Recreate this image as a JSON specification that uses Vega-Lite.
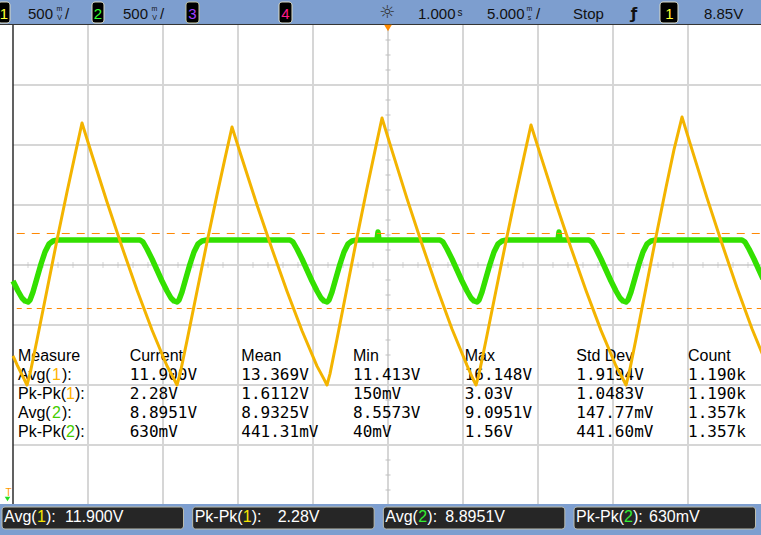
{
"$schema": "https://vega.github.io/schema/vega-lite/v6.json",
"width": 761, "height": 535,
"autosize": {"type": "none"},
"padding": 0,
"background": "#ffffff",
"config": {
  "view": {"stroke": null},
  "axis": {"disable": true},
  "legend": {"disable": true},
  "text": {"font": "Liberation Sans", "fontSize": 15, "baseline": "alphabetic", "align": "left", "color": "#111111"}
},
"datasets": {
  "gridT": [{"t":-20},{"t":-15},{"t":-10},{"t":-5},{"t":0},{"t":5},{"t":10},{"t":15},{"t":20}],
  "gridV": [{"v":10.3},{"v":10.8},{"v":11.3},{"v":11.8},{"v":12.3},{"v":12.8},{"v":13.3}],
  "minorT": [{"t":-24},{"t":-23},{"t":-22},{"t":-21},{"t":-19},{"t":-18},{"t":-17},{"t":-16},{"t":-14},{"t":-13},{"t":-12},{"t":-11},{"t":-9},{"t":-8},{"t":-7},{"t":-6},{"t":-4},{"t":-3},{"t":-2},{"t":-1},{"t":1},{"t":2},{"t":3},{"t":4},{"t":6},{"t":7},{"t":8},{"t":9},{"t":11},{"t":12},{"t":13},{"t":14},{"t":16},{"t":17},{"t":18},{"t":19},{"t":21},{"t":22},{"t":23},{"t":24}],
  "minorV": [{"v":9.925},{"v":10.05},{"v":10.175},{"v":10.425},{"v":10.55},{"v":10.675},{"v":10.925},{"v":11.05},{"v":11.175},{"v":11.425},{"v":11.55},{"v":11.675},{"v":11.925},{"v":12.05},{"v":12.175},{"v":12.425},{"v":12.55},{"v":12.675},{"v":12.925},{"v":13.05},{"v":13.175},{"v":13.425},{"v":13.55},{"v":13.675}],
  "markers": [{"marker":"max","v":9.05417},{"marker":"min","v":8.42917}],
  "meas": [
    {"measure":"Avg(1)","stat":"Current","value":"11.900V"},{"measure":"Avg(1)","stat":"Mean","value":"13.369V"},{"measure":"Avg(1)","stat":"Min","value":"11.413V"},{"measure":"Avg(1)","stat":"Max","value":"16.148V"},{"measure":"Avg(1)","stat":"Std Dev","value":"1.9194V"},{"measure":"Avg(1)","stat":"Count","value":"1.190k"},
    {"measure":"Pk-Pk(1)","stat":"Current","value":"2.28V"},{"measure":"Pk-Pk(1)","stat":"Mean","value":"1.6112V"},{"measure":"Pk-Pk(1)","stat":"Min","value":"150mV"},{"measure":"Pk-Pk(1)","stat":"Max","value":"3.03V"},{"measure":"Pk-Pk(1)","stat":"Std Dev","value":"1.0483V"},{"measure":"Pk-Pk(1)","stat":"Count","value":"1.190k"},
    {"measure":"Avg(2)","stat":"Current","value":"8.8951V"},{"measure":"Avg(2)","stat":"Mean","value":"8.9325V"},{"measure":"Avg(2)","stat":"Min","value":"8.5573V"},{"measure":"Avg(2)","stat":"Max","value":"9.0951V"},{"measure":"Avg(2)","stat":"Std Dev","value":"147.77mV"},{"measure":"Avg(2)","stat":"Count","value":"1.357k"},
    {"measure":"Pk-Pk(2)","stat":"Current","value":"630mV"},{"measure":"Pk-Pk(2)","stat":"Mean","value":"441.31mV"},{"measure":"Pk-Pk(2)","stat":"Min","value":"40mV"},{"measure":"Pk-Pk(2)","stat":"Max","value":"1.56V"},{"measure":"Pk-Pk(2)","stat":"Std Dev","value":"441.60mV"},{"measure":"Pk-Pk(2)","stat":"Count","value":"1.357k"}
  ],
  "labels": [
    {"measure":"Avg(1)","prefix":"Avg(","ch":"1"},
    {"measure":"Pk-Pk(1)","prefix":"Pk-Pk(","ch":"1"},
    {"measure":"Avg(2)","prefix":"Avg(","ch":"2"},
    {"measure":"Pk-Pk(2)","prefix":"Pk-Pk(","ch":"2"}
  ],
  "ch1": [{"t":-25,"v":11.042},{"t":-24.733,"v":10.969},{"t":-24.267,"v":10.851},{"t":-24.067,"v":10.8},
    {"t":-23.867,"v":10.892},{"t":-23.4,"v":11.175},{"t":-22.733,"v":11.592},{"t":-22.067,"v":12.008},{"t":-21.4,"v":12.408},{"t":-20.867,"v":12.717},{"t":-20.4,"v":12.983},
    {"t":-19.733,"v":12.717},{"t":-18.733,"v":12.325},{"t":-17.733,"v":11.95},{"t":-16.733,"v":11.592},{"t":-15.733,"v":11.258},{"t":-14.733,"v":10.958},{"t":-14.267,"v":10.85},{"t":-14.067,"v":10.8},
    {"t":-13.867,"v":10.89},{"t":-13.4,"v":11.17},{"t":-12.733,"v":11.581},{"t":-12.067,"v":11.989},{"t":-11.4,"v":12.384},{"t":-10.867,"v":12.688},{"t":-10.4,"v":12.95},
    {"t":-9.733,"v":12.688},{"t":-8.733,"v":12.3},{"t":-7.733,"v":11.933},{"t":-6.733,"v":11.581},{"t":-5.733,"v":11.252},{"t":-4.733,"v":10.957},{"t":-4.267,"v":10.849},{"t":-4.067,"v":10.8},
    {"t":-3.867,"v":10.893},{"t":-3.4,"v":11.183},{"t":-2.733,"v":11.608},{"t":-2.067,"v":12.03},{"t":-1.4,"v":12.44},{"t":-0.867,"v":12.753},{"t":-0.4,"v":13.025},
    {"t":0.267,"v":12.753},{"t":1.267,"v":12.353},{"t":2.267,"v":11.973},{"t":3.267,"v":11.608},{"t":4.267,"v":11.267},{"t":5.267,"v":10.963},{"t":5.667,"v":10.85},{"t":5.867,"v":10.8},
    {"t":6.067,"v":10.891},{"t":6.533,"v":11.173},{"t":7.2,"v":11.587},{"t":7.867,"v":11.998},{"t":8.533,"v":12.397},{"t":9.067,"v":12.703},{"t":9.533,"v":12.967},
    {"t":10.2,"v":12.703},{"t":11.2,"v":12.313},{"t":12.2,"v":11.942},{"t":13.2,"v":11.587},{"t":14.2,"v":11.255},{"t":15.2,"v":10.958},{"t":15.667,"v":10.85},{"t":15.867,"v":10.8},
    {"t":16.067,"v":10.894},{"t":16.533,"v":11.184},{"t":17.2,"v":11.611},{"t":17.867,"v":12.035},{"t":18.533,"v":12.446},{"t":19.067,"v":12.761},{"t":19.6,"v":13.033},
    {"t":20.267,"v":12.761},{"t":21.267,"v":12.359},{"t":22.267,"v":11.977},{"t":23.267,"v":11.611},{"t":24.267,"v":11.269},{"t":24.867,"v":11.086},{"t":25,"v":11.046}],
  "ch2": [{"t":-25,"v":8.6583},{"t":-24.667,"v":8.575},{"t":-24.4,"v":8.5167},{"t":-24.2,"v":8.4917},{"t":-24.0,"v":8.4833},
    {"t":-23.867,"v":8.5},{"t":-23.667,"v":8.5667},{"t":-23.4,"v":8.6833},{"t":-23.133,"v":8.8},{"t":-22.867,"v":8.9},{"t":-22.6,"v":8.9667},{"t":-22.333,"v":8.9917},{"t":-22.0,"v":9.0},
    {"t":-16.533,"v":9.0},
    {"t":-16.333,"v":8.9833},{"t":-16.067,"v":8.925},{"t":-15.733,"v":8.8417},{"t":-15.4,"v":8.75},{"t":-15.067,"v":8.6583},{"t":-14.733,"v":8.575},{"t":-14.467,"v":8.5167},{"t":-14.267,"v":8.4917},{"t":-14.067,"v":8.4833},
    {"t":-13.933,"v":8.5},{"t":-13.733,"v":8.5667},{"t":-13.467,"v":8.6833},{"t":-13.2,"v":8.8},{"t":-12.933,"v":8.9},{"t":-12.667,"v":8.9667},{"t":-12.4,"v":8.9917},{"t":-12.067,"v":9.0},
    {"t":-6.533,"v":9.0},
    {"t":-6.333,"v":8.9833},{"t":-6.067,"v":8.925},{"t":-5.733,"v":8.8417},{"t":-5.4,"v":8.75},{"t":-5.067,"v":8.6583},{"t":-4.733,"v":8.575},{"t":-4.467,"v":8.5167},{"t":-4.267,"v":8.4917},{"t":-4.067,"v":8.4833},
    {"t":-3.933,"v":8.5},{"t":-3.733,"v":8.5667},{"t":-3.467,"v":8.6833},{"t":-3.2,"v":8.8},{"t":-2.933,"v":8.9},{"t":-2.667,"v":8.9667},{"t":-2.4,"v":8.9917},{"t":-2.067,"v":9.0},
    {"t":-0.733,"v":9.0},{"t":-0.667,"v":9.0667},{"t":-0.6,"v":9.0},
    {"t":3.467,"v":9.0},
    {"t":3.667,"v":8.9833},{"t":3.933,"v":8.925},{"t":4.267,"v":8.8417},{"t":4.6,"v":8.75},{"t":4.933,"v":8.6583},{"t":5.267,"v":8.575},{"t":5.533,"v":8.5167},{"t":5.733,"v":8.4917},{"t":5.933,"v":8.4833},
    {"t":6.067,"v":8.5},{"t":6.267,"v":8.5667},{"t":6.533,"v":8.6833},{"t":6.8,"v":8.8},{"t":7.067,"v":8.9},{"t":7.333,"v":8.9667},{"t":7.6,"v":8.9917},{"t":7.933,"v":9.0},
    {"t":11.333,"v":9.0},{"t":11.4,"v":9.0667},{"t":11.467,"v":9.0},
    {"t":13.4,"v":9.0},
    {"t":13.6,"v":8.9833},{"t":13.867,"v":8.925},{"t":14.2,"v":8.8417},{"t":14.533,"v":8.75},{"t":14.867,"v":8.6583},{"t":15.2,"v":8.575},{"t":15.467,"v":8.5167},{"t":15.667,"v":8.4917},{"t":15.867,"v":8.4833},
    {"t":16.0,"v":8.5},{"t":16.2,"v":8.5667},{"t":16.467,"v":8.6833},{"t":16.733,"v":8.8},{"t":17.0,"v":8.9},{"t":17.267,"v":8.9667},{"t":17.533,"v":8.9917},{"t":17.867,"v":9.0},
    {"t":23.6,"v":9.0},
    {"t":23.8,"v":8.9833},{"t":24.067,"v":8.925},{"t":24.4,"v":8.8417},{"t":24.733,"v":8.75},{"t":25.0,"v":8.675}]
},
"resolve": {"scale": {"x": "independent", "y": "independent", "color": "independent", "strokeDash": "independent"}},
"layer": [
  {
    "layer": [
      {"data": {"name": "gridT"}, "mark": {"type": "rule", "color": "#d6d6d6", "strokeWidth": 2},
       "encoding": {"x": {"field": "t", "type": "quantitative", "scale": {"domain": [-25.8667, 24.8667], "nice": false, "zero": false}},
                    "y": {"datum": 13.8, "type": "quantitative", "scale": {"domain": [9.55, 14.008333], "nice": false, "zero": false}}, "y2": {"datum": 9.8}}},
      {"data": {"name": "gridV"}, "mark": {"type": "rule", "color": "#d6d6d6", "strokeWidth": 2},
       "encoding": {"y": {"field": "v", "type": "quantitative", "scale": {"domain": [9.55, 14.008333], "nice": false, "zero": false}},
                    "x": {"datum": -25, "type": "quantitative", "scale": {"domain": [-25.8667, 24.8667], "nice": false, "zero": false}}, "x2": {"datum": 25}}},
      {"data": {"name": "minorT"}, "mark": {"type": "tick", "orient": "vertical", "size": 6, "thickness": 1, "color": "#c2c2c2"},
       "encoding": {"x": {"field": "t", "type": "quantitative", "scale": {"domain": [-25.8667, 24.8667], "nice": false, "zero": false}},
                    "y": {"datum": 11.8, "type": "quantitative", "scale": {"domain": [9.55, 14.008333], "nice": false, "zero": false}}}},
      {"data": {"name": "minorV"}, "mark": {"type": "tick", "orient": "horizontal", "size": 5, "thickness": 1.5, "color": "#c2c2c2"},
       "encoding": {"y": {"field": "v", "type": "quantitative", "scale": {"domain": [9.55, 14.008333], "nice": false, "zero": false}},
                    "x": {"datum": 0, "type": "quantitative", "scale": {"domain": [-25.8667, 24.8667], "nice": false, "zero": false}}}},
      {"data": {"values": [{}]}, "mark": {"type": "rule", "color": "#2d2d2d", "strokeWidth": 1.5},
       "encoding": {"x": {"datum": -25, "type": "quantitative"}, "y": {"datum": 13.8, "type": "quantitative"}, "y2": {"datum": 9.8}}},
      {"data": {"values": [{}]}, "mark": {"type": "rect", "color": "#7d9ecf"},
       "encoding": {"x": {"datum": -26, "type": "quantitative"}, "x2": {"datum": 25.5}, "y": {"datum": 14.1, "type": "quantitative"}, "y2": {"datum": 13.8083}}},
      {"data": {"values": [{}]}, "mark": {"type": "rule", "color": "#333333", "strokeWidth": 1},
       "encoding": {"x": {"datum": -26, "type": "quantitative"}, "x2": {"datum": 25.5}, "y": {"datum": 13.80417, "type": "quantitative"}}},
      {"data": {"values": [{}]}, "mark": {"type": "rect", "color": "#7d9ecf"},
       "encoding": {"x": {"datum": -26, "type": "quantitative"}, "x2": {"datum": 25.5}, "y": {"datum": 9.8083, "type": "quantitative"}, "y2": {"datum": 9.5}}},
      {"data": {"values": [{}]}, "mark": {"type": "rect", "fill": "#000000", "stroke": "#dcdcc8", "strokeWidth": 1, "cornerRadius": 3},
       "encoding": {"x": {"datum": -26, "type": "quantitative"}, "x2": {"datum": -25.2}, "y": {"datum": 13.99167, "type": "quantitative"}, "y2": {"datum": 13.81667}}},
      {"data": {"values": [{}]}, "mark": {"type": "rect", "fill": "#000000", "stroke": "#dcdcc8", "strokeWidth": 1, "cornerRadius": 3},
       "encoding": {"x": {"datum": -19.733, "type": "quantitative"}, "x2": {"datum": -18.933}, "y": {"datum": 13.99167, "type": "quantitative"}, "y2": {"datum": 13.81667}}},
      {"data": {"values": [{}]}, "mark": {"type": "rect", "fill": "#000000", "stroke": "#c8c8a0", "strokeWidth": 1, "cornerRadius": 3},
       "encoding": {"x": {"datum": -13.467, "type": "quantitative"}, "x2": {"datum": -12.6}, "y": {"datum": 13.99167, "type": "quantitative"}, "y2": {"datum": 13.81667}}},
      {"data": {"values": [{}]}, "mark": {"type": "rect", "fill": "#000000", "stroke": "#dcdcc8", "strokeWidth": 1, "cornerRadius": 3},
       "encoding": {"x": {"datum": -7.267, "type": "quantitative"}, "x2": {"datum": -6.4}, "y": {"datum": 13.99167, "type": "quantitative"}, "y2": {"datum": 13.81667}}},
      {"data": {"values": [{}]}, "mark": {"type": "rect", "fill": "#000000", "stroke": "#dcdcc8", "strokeWidth": 1, "cornerRadius": 3},
       "encoding": {"x": {"datum": 18.133, "type": "quantitative"}, "x2": {"datum": 19.333}, "y": {"datum": 13.99167, "type": "quantitative"}, "y2": {"datum": 13.81667}}},
      {"data": {"values": [{"label": "1"}]}, "mark": {"type": "text", "align": "center", "color": "#ffff33"},
       "encoding": {"x": {"datum": -25.6, "type": "quantitative"}, "y": {"datum": 13.854, "type": "quantitative"}, "text": {"field": "label"}}},
      {"data": {"values": [{"label": "2"}]}, "mark": {"type": "text", "align": "center", "color": "#33ff33"},
       "encoding": {"x": {"datum": -19.333, "type": "quantitative"}, "y": {"datum": 13.854, "type": "quantitative"}, "text": {"field": "label"}}},
      {"data": {"values": [{"label": "3"}]}, "mark": {"type": "text", "align": "center", "color": "#a040ff"},
       "encoding": {"x": {"datum": -13.033, "type": "quantitative"}, "y": {"datum": 13.854, "type": "quantitative"}, "text": {"field": "label"}}},
      {"data": {"values": [{"label": "4"}]}, "mark": {"type": "text", "align": "center", "color": "#ff1a8c"},
       "encoding": {"x": {"datum": -6.833, "type": "quantitative"}, "y": {"datum": 13.854, "type": "quantitative"}, "text": {"field": "label"}}},
      {"data": {"values": [{"label": "1"}]}, "mark": {"type": "text", "align": "center", "color": "#ffff33"},
       "encoding": {"x": {"datum": 18.767, "type": "quantitative"}, "y": {"datum": 13.854, "type": "quantitative"}, "text": {"field": "label"}}},
      {"data": {"values": [{"label": "500"}]}, "mark": {"type": "text"},
       "encoding": {"x": {"datum": -24.0, "type": "quantitative"}, "y": {"datum": 13.854, "type": "quantitative"}, "text": {"field": "label"}}},
      {"data": {"values": [{"label": "m"}]}, "mark": {"type": "text", "align": "center", "fontSize": 7},
       "encoding": {"x": {"datum": -21.9, "type": "quantitative"}, "y": {"datum": 13.9167, "type": "quantitative"}, "text": {"field": "label"}}},
      {"data": {"values": [{"label": "V"}]}, "mark": {"type": "text", "align": "center", "fontSize": 7},
       "encoding": {"x": {"datum": -21.9, "type": "quantitative"}, "y": {"datum": 13.8417, "type": "quantitative"}, "text": {"field": "label"}}},
      {"data": {"values": [{"label": "/"}]}, "mark": {"type": "text"},
       "encoding": {"x": {"datum": -21.533, "type": "quantitative"}, "y": {"datum": 13.854, "type": "quantitative"}, "text": {"field": "label"}}},
      {"data": {"values": [{"label": "500"}]}, "mark": {"type": "text"},
       "encoding": {"x": {"datum": -17.667, "type": "quantitative"}, "y": {"datum": 13.854, "type": "quantitative"}, "text": {"field": "label"}}},
      {"data": {"values": [{"label": "m"}]}, "mark": {"type": "text", "align": "center", "fontSize": 7},
       "encoding": {"x": {"datum": -15.567, "type": "quantitative"}, "y": {"datum": 13.9167, "type": "quantitative"}, "text": {"field": "label"}}},
      {"data": {"values": [{"label": "V"}]}, "mark": {"type": "text", "align": "center", "fontSize": 7},
       "encoding": {"x": {"datum": -15.567, "type": "quantitative"}, "y": {"datum": 13.8417, "type": "quantitative"}, "text": {"field": "label"}}},
      {"data": {"values": [{"label": "/"}]}, "mark": {"type": "text"},
       "encoding": {"x": {"datum": -15.2, "type": "quantitative"}, "y": {"datum": 13.854, "type": "quantitative"}, "text": {"field": "label"}}},
      {"data": {"values": [{"label": "☼"}]}, "mark": {"type": "text", "align": "center", "font": "DejaVu Sans", "fontSize": 18, "color": "#333333"},
       "encoding": {"x": {"datum": -0.067, "type": "quantitative"}, "y": {"datum": 13.862, "type": "quantitative"}, "text": {"field": "label"}}},
      {"data": {"values": [{"label": "1.000"}]}, "mark": {"type": "text"},
       "encoding": {"x": {"datum": 2.0, "type": "quantitative"}, "y": {"datum": 13.854, "type": "quantitative"}, "text": {"field": "label"}}},
      {"data": {"values": [{"label": "s"}]}, "mark": {"type": "text", "align": "center", "fontSize": 10},
       "encoding": {"x": {"datum": 4.8, "type": "quantitative"}, "y": {"datum": 13.875, "type": "quantitative"}, "text": {"field": "label"}}},
      {"data": {"values": [{"label": "5.000"}]}, "mark": {"type": "text"},
       "encoding": {"x": {"datum": 6.6, "type": "quantitative"}, "y": {"datum": 13.854, "type": "quantitative"}, "text": {"field": "label"}}},
      {"data": {"values": [{"label": "m"}]}, "mark": {"type": "text", "align": "center", "fontSize": 7},
       "encoding": {"x": {"datum": 9.433, "type": "quantitative"}, "y": {"datum": 13.9167, "type": "quantitative"}, "text": {"field": "label"}}},
      {"data": {"values": [{"label": "s"}]}, "mark": {"type": "text", "align": "center", "fontSize": 7},
       "encoding": {"x": {"datum": 9.433, "type": "quantitative"}, "y": {"datum": 13.8417, "type": "quantitative"}, "text": {"field": "label"}}},
      {"data": {"values": [{"label": "/"}]}, "mark": {"type": "text"},
       "encoding": {"x": {"datum": 9.8667, "type": "quantitative"}, "y": {"datum": 13.854, "type": "quantitative"}, "text": {"field": "label"}}},
      {"data": {"values": [{"label": "Stop"}]}, "mark": {"type": "text"},
       "encoding": {"x": {"datum": 12.333, "type": "quantitative"}, "y": {"datum": 13.854, "type": "quantitative"}, "text": {"field": "label"}}},
      {"data": {"values": [{"label": "ƒ"}]}, "mark": {"type": "text", "align": "center", "font": "DejaVu Sans", "fontWeight": "bold"},
       "encoding": {"x": {"datum": 16.4, "type": "quantitative"}, "y": {"datum": 13.854, "type": "quantitative"}, "text": {"field": "label"}}},
      {"data": {"values": [{"label": "8.85V"}]}, "mark": {"type": "text"},
       "encoding": {"x": {"datum": 21.067, "type": "quantitative"}, "y": {"datum": 13.854, "type": "quantitative"}, "text": {"field": "label"}}},
      {"data": {"values": [{}]}, "mark": {"type": "point", "shape": "triangle-down", "filled": true, "size": 60, "color": "#ff8a00", "opacity": 1},
       "encoding": {"x": {"datum": 0, "type": "quantitative"}, "y": {"datum": 13.775, "type": "quantitative"}}},
      {"data": {"values": [{"label": "T"}]}, "mark": {"type": "text", "align": "center", "fontSize": 10, "color": "#ff9900"},
       "encoding": {"x": {"datum": -25.3, "type": "quantitative"}, "y": {"datum": 9.875, "type": "quantitative"}, "text": {"field": "label"}}},
      {"data": {"values": [{}]}, "mark": {"type": "point", "shape": "triangle-down", "filled": true, "size": 30, "color": "#22dd22", "opacity": 1},
       "encoding": {"x": {"datum": -25.367, "type": "quantitative"}, "y": {"datum": 9.85, "type": "quantitative"}}}
    ]
  },
  {
    "layer": [
      {"data": {"name": "meas"}, "mark": {"type": "text", "font": "DejaVu Sans Mono", "fontSize": 16, "color": "#000000"},
       "encoding": {
         "x": {"field": "stat", "type": "nominal", "scale": {"type": "point", "domain": ["Measure","Current","Mean","Min","Max","Std Dev","Count"], "padding": 0.40746, "align": 0.1978, "round": false}},
         "y": {"field": "measure", "type": "nominal", "scale": {"type": "point", "domain": ["Measure","Avg(1)","Pk-Pk(1)","Avg(2)","Pk-Pk(2)"], "range": [361, 437], "padding": 0, "round": false}},
         "text": {"field": "value"}}},
      {"data": {"name": "meas"}, "transform": [{"filter": "datum.measure == 'Avg(1)'"}],
       "mark": {"type": "text", "fontSize": 16, "color": "#000000"},
       "encoding": {"x": {"field": "stat", "type": "nominal"}, "y": {"datum": "Measure", "type": "nominal"}, "text": {"field": "stat"}}},
      {"data": {"values": [{"label": "Measure"}]}, "mark": {"type": "text", "fontSize": 16, "color": "#000000"},
       "encoding": {"x": {"datum": "Measure", "type": "nominal"}, "y": {"datum": "Measure", "type": "nominal"}, "text": {"field": "label"}}},
      {"data": {"name": "labels"}, "mark": {"type": "text", "fontSize": 16, "color": "#000000"},
       "encoding": {"x": {"datum": "Measure", "type": "nominal"}, "y": {"field": "measure", "type": "nominal"}, "text": {"field": "prefix"}}},
      {"data": {"name": "labels"}, "transform": [{"filter": "datum.prefix == 'Avg('"}],
       "mark": {"type": "text", "fontSize": 16, "dx": 34},
       "encoding": {"x": {"datum": "Measure", "type": "nominal"}, "y": {"field": "measure", "type": "nominal"}, "text": {"field": "ch"},
         "color": {"field": "ch", "type": "nominal", "scale": {"domain": ["1","2"], "range": ["#ffb400","#44cc00"]}, "legend": null}}},
      {"data": {"name": "labels"}, "transform": [{"filter": "datum.prefix == 'Pk-Pk('"}],
       "mark": {"type": "text", "fontSize": 16, "dx": 48},
       "encoding": {"x": {"datum": "Measure", "type": "nominal"}, "y": {"field": "measure", "type": "nominal"}, "text": {"field": "ch"},
         "color": {"field": "ch", "type": "nominal", "scale": {"domain": ["1","2"], "range": ["#ffb400","#44cc00"]}, "legend": null}}},
      {"data": {"name": "labels"}, "transform": [{"filter": "datum.prefix == 'Avg('"}],
       "mark": {"type": "text", "fontSize": 16, "dx": 44, "color": "#000000"},
       "encoding": {"x": {"datum": "Measure", "type": "nominal"}, "y": {"field": "measure", "type": "nominal"}, "text": {"value": "):"}}},
      {"data": {"name": "labels"}, "transform": [{"filter": "datum.prefix == 'Pk-Pk('"}],
       "mark": {"type": "text", "fontSize": 16, "dx": 57, "color": "#000000"},
       "encoding": {"x": {"datum": "Measure", "type": "nominal"}, "y": {"field": "measure", "type": "nominal"}, "text": {"value": "):"}}}
    ]
  },
  {
    "layer": [
      {"data": {"name": "labels"}, "mark": {"type": "rect", "fill": "#262626", "stroke": "#bdbdad", "strokeWidth": 1, "cornerRadius": 3},
       "encoding": {
         "x": {"field": "measure", "type": "nominal", "scale": {"type": "band", "domain": ["Avg(1)","Pk-Pk(1)","Avg(2)","Pk-Pk(2)"], "paddingInner": 0.0481, "paddingOuter": 0.01966, "align": 0.267, "round": false}},
         "y": {"datum": 9.7833, "type": "quantitative", "scale": {"domain": [9.55, 14.008333], "nice": false, "zero": false}}, "y2": {"datum": 9.6}}},
      {"data": {"name": "labels"}, "mark": {"type": "text", "fontSize": 16, "color": "#ffffff", "dx": 2},
       "encoding": {"x": {"field": "measure", "type": "nominal", "bandPosition": 0}, "y": {"datum": 9.6583, "type": "quantitative"}, "text": {"field": "prefix"}}},
      {"data": {"name": "labels"}, "transform": [{"filter": "datum.prefix == 'Avg('"}],
       "mark": {"type": "text", "fontSize": 16, "dx": 35},
       "encoding": {"x": {"field": "measure", "type": "nominal", "bandPosition": 0}, "y": {"datum": 9.6583, "type": "quantitative"}, "text": {"field": "ch"},
         "color": {"field": "ch", "type": "nominal", "scale": {"domain": ["1","2"], "range": ["#f5e400","#33ee33"]}, "legend": null}}},
      {"data": {"name": "labels"}, "transform": [{"filter": "datum.prefix == 'Pk-Pk('"}],
       "mark": {"type": "text", "fontSize": 16, "dx": 50},
       "encoding": {"x": {"field": "measure", "type": "nominal", "bandPosition": 0}, "y": {"datum": 9.6583, "type": "quantitative"}, "text": {"field": "ch"},
         "color": {"field": "ch", "type": "nominal", "scale": {"domain": ["1","2"], "range": ["#f5e400","#33ee33"]}, "legend": null}}},
      {"data": {"name": "labels"}, "transform": [{"filter": "datum.prefix == 'Avg('"}],
       "mark": {"type": "text", "fontSize": 16, "dx": 44, "color": "#ffffff"},
       "encoding": {"x": {"field": "measure", "type": "nominal", "bandPosition": 0}, "y": {"datum": 9.6583, "type": "quantitative"}, "text": {"value": "):"}}},
      {"data": {"name": "labels"}, "transform": [{"filter": "datum.prefix == 'Pk-Pk('"}],
       "mark": {"type": "text", "fontSize": 16, "dx": 59, "color": "#ffffff"},
       "encoding": {"x": {"field": "measure", "type": "nominal", "bandPosition": 0}, "y": {"datum": 9.6583, "type": "quantitative"}, "text": {"value": "):"}}},
      {"data": {"name": "meas"}, "transform": [{"filter": "datum.stat == 'Current' && datum.measure == 'Avg(1)'"}],
       "mark": {"type": "text", "fontSize": 16, "dx": 63, "color": "#ffffff"},
       "encoding": {"x": {"field": "measure", "type": "nominal", "bandPosition": 0}, "y": {"datum": 9.6583, "type": "quantitative"}, "text": {"field": "value"}}},
      {"data": {"name": "meas"}, "transform": [{"filter": "datum.stat == 'Current' && datum.measure == 'Pk-Pk(1)'"}],
       "mark": {"type": "text", "fontSize": 16, "dx": 85, "color": "#ffffff"},
       "encoding": {"x": {"field": "measure", "type": "nominal", "bandPosition": 0}, "y": {"datum": 9.6583, "type": "quantitative"}, "text": {"field": "value"}}},
      {"data": {"name": "meas"}, "transform": [{"filter": "datum.stat == 'Current' && datum.measure == 'Avg(2)'"}],
       "mark": {"type": "text", "fontSize": 16, "dx": 62, "color": "#ffffff"},
       "encoding": {"x": {"field": "measure", "type": "nominal", "bandPosition": 0}, "y": {"datum": 9.6583, "type": "quantitative"}, "text": {"field": "value"}}},
      {"data": {"name": "meas"}, "transform": [{"filter": "datum.stat == 'Current' && datum.measure == 'Pk-Pk(2)'"}],
       "mark": {"type": "text", "fontSize": 16, "dx": 75, "color": "#ffffff"},
       "encoding": {"x": {"field": "measure", "type": "nominal", "bandPosition": 0}, "y": {"datum": 9.6583, "type": "quantitative"}, "text": {"field": "value"}}}
    ]
  },
  {
    "layer": [
      {"data": {"name": "ch2"}, "mark": {"type": "line", "color": "#33e000", "strokeWidth": 5.5, "strokeJoin": "round"},
       "encoding": {"x": {"field": "t", "type": "quantitative", "scale": {"domain": [-25.8667, 24.8667], "nice": false, "zero": false}},
                    "y": {"field": "v", "type": "quantitative", "scale": {"domain": [6.541667, 11.0], "nice": false, "zero": false}}}},
      {"data": {"name": "markers"}, "mark": {"type": "rule", "color": "#ff8800", "strokeWidth": 1},
       "encoding": {"y": {"field": "v", "type": "quantitative"}, "x": {"datum": -24.75, "type": "quantitative"}, "x2": {"datum": 25},
                    "strokeDash": {"field": "marker", "type": "nominal", "scale": {"domain": ["max","min"], "range": [[8,7],[5,5]]}, "legend": null}}}
    ]
  },
  {
    "data": {"name": "ch1"},
    "mark": {"type": "line", "color": "#f3b400", "strokeWidth": 3, "strokeJoin": "round"},
    "encoding": {"x": {"field": "t", "type": "quantitative", "scale": {"domain": [-25.8667, 24.8667], "nice": false, "zero": false}},
                 "y": {"field": "v", "type": "quantitative", "scale": {"domain": [9.55, 14.008333], "nice": false, "zero": false}}}
  }
]
}
